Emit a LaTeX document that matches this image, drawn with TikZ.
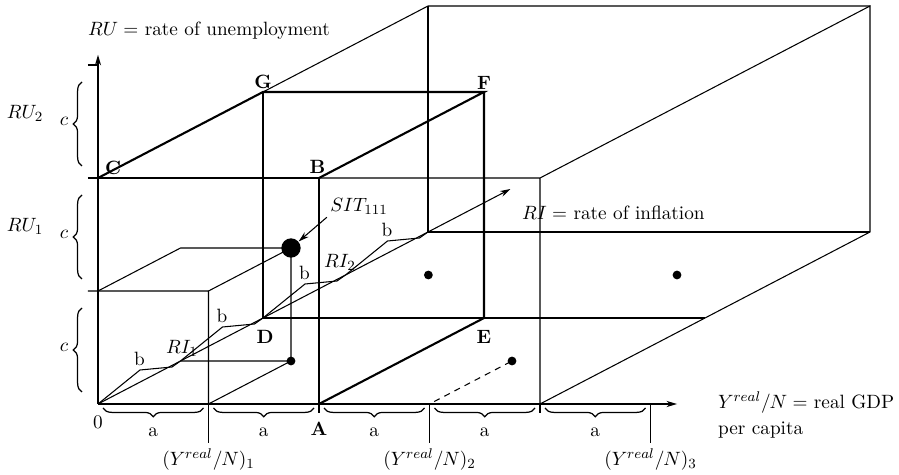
\documentclass[tikz,border=0pt,11pt]{standalone}
\usepackage{amsmath,amssymb}
\usepackage{tikz}
\usetikzlibrary{arrows.meta, positioning, calc, decorations.pathreplacing}

\begin{document}
\begin{tikzpicture}[>={Stealth[length=6pt,width=3.5pt]},
  x={(2.21cm,0cm)}, y={(0cm,2.26cm)}, z={(1.65cm,0.86cm)},
  box/.style={line width=0.6pt},
  cube/.style={line width=1.2pt},
  ax/.style={line width=0.7pt},
  bracedn/.style={decorate, decoration={brace, mirror, amplitude=5pt}, line width=0.7pt},
  braceup/.style={decorate, decoration={brace, amplitude=5pt}, line width=0.7pt},
  lbl/.style={inner sep=1pt},
  dot/.style={circle, fill, inner sep=0pt, minimum size=5pt},
  bigdot/.style={circle, fill, inner sep=0pt, minimum size=11pt}]
\useasboundingbox (-1.96cm,-1.42cm) rectangle (16.02cm,8.08cm);

% cube OABC-DEFG
\coordinate (O) at (0,0,0);
\coordinate (A) at (2,0,0);
\coordinate (B) at (2,2,0);
\coordinate (C) at (0,2,0);
\coordinate (D) at (0,0,2);
\coordinate (E) at (2,0,2);
\coordinate (F) at (2,2,2);
\coordinate (G) at (0,2,2);
% outer box
\coordinate (p1) at (4,0,0);
\coordinate (p2) at (4,2,0);
\coordinate (p3) at (4,2,4);
\coordinate (p4) at (4,0,4);
\coordinate (p5) at (0,0,4);
\coordinate (p6) at (0,2,4);
\coordinate (p7) at (4,0,2);
% axis ends
\coordinate (xend) at (5.24,0,0);
\coordinate (yend) at (0,3.09,0);
\coordinate (zend) at (0,0,5);

% outer box
\draw[box] (B) -- (p2) -- (p1) -- (p4) -- (p3) -- (p2);
\draw[box] (G) -- (p6) -- (p3);
\draw[box] (p6) -- (p5) -- (p4);
\draw[box] (G) -- (D) -- (p7);

% small box
\draw[box] ($(0,1,0)+(-0.2cm,0)$) -- (1,1,0) -- (1,0,0) -- (1,0,1);
\draw[box] (0,1,0) -- (0,1,1) -- (1,1,1) -- (1,0,1) -- (0,0,1);
\draw[box] (1,1,0) -- (1,1,1);
\draw[box] ($(0,2,0)+(-0.2cm,0)$) -- (C);
\draw[box] ($(0,3,0)+(-0.2cm,0)$) -- (0,3,0);
\draw[box, dash pattern=on 3.5pt off 3pt, dash phase=3.5pt] (3,0,0) -- (3,0,1);

% axes
\draw[ax, ->] (O) -- (xend);
\draw[ax, ->] (O) -- (yend);
\draw[box, ->] (O) -- (zend);

% steps along RI
\foreach \k in {0,...,3} {
  \draw[box] (0,0,\k) -- ++(0.84cm,0.68cm) -- ++(0.64cm,0.06cm) -- (0,0,\k+1);
  \node[lbl] (b\k) at ($(0,0,\k)+(0.83cm,0.9cm)$) {b};
}
\node[lbl] (ri1) at ($(0,0,1)+(0.03cm,0.26cm)$) {$RI_1$};
\node[lbl] (ri2) at ($(0,0,3)+(-0.11cm,0.26cm)$) {$RI_2$};

% cube edges
\draw[cube] (O) -- (C) -- (B) -- (A);
\draw[cube] (C) -- (G) -- (F) -- (B);
\draw[cube] (F) -- (E) -- (A);
\draw[ax] (O) -- (A);

% ticks and braces below
\foreach \k in {1,3,5}
  \draw[box] (\k,0,0) -- ++(0,-0.78cm);
\foreach \k in {2,4}
  \draw[box] (\k,0,0) -- ++(0,-0.18cm);
\foreach \k in {0,...,4} {
  \draw[bracedn] ($(\k,0,0)+(0.1cm,-0.08cm)$) -- ($(\k+1,0,0)+(-0.1cm,-0.08cm)$);
  \node[lbl] (a\k) at ($(\k+0.5,0,0)+(0,-0.56cm)$) {a};
}
\node[lbl] (y1) at ($(1,0,0)+(0,-1.12cm)$) {$(Y^{real}/N)_1$};
\node[lbl] (y2) at ($(3,0,0)+(0,-1.12cm)$) {$(Y^{real}/N)_2$};
\node[lbl] (y3) at ($(5,0,0)+(0,-1.12cm)$) {$(Y^{real}/N)_3$};

% braces left
\foreach \k in {0,1,2} {
  \draw[braceup] ($(0,\k,0)+(-0.32cm,0.24cm)$) -- ($(0,\k+1,0)+(-0.32cm,-0.34cm)$);
  \node[lbl] (c\k) at ($(0,\k+0.5,0)+(-0.68cm,0)$) {$c$};
}
\node[lbl] (ru1) at (-1.46cm,3.56cm) {$RU_1$};
\node[lbl] (ru2) at (-1.46cm,5.82cm) {$RU_2$};

% corner labels
\node[lbl] (lA) at ($(A)+(0,-0.5cm)$) {\textbf{A}};
\node[lbl] (lB) at ($(B)+(-0.03cm,0.22cm)$) {\textbf{B}};
\node[lbl] (lC) at ($(C)+(0.3cm,0.2cm)$) {\textbf{C}};
\node[lbl] (lD) at ($(D)+(0.04cm,-0.38cm)$) {\textbf{D}};
\node[lbl] (lE) at ($(E)+(0,-0.38cm)$) {\textbf{E}};
\node[lbl] (lF) at ($(F)+(0,0.19cm)$) {\textbf{F}};
\node[lbl] (lG) at ($(G)+(0,0.2cm)$) {\textbf{G}};
\node[lbl] (l0) at ($(O)+(0,-0.36cm)$) {0};

% situations
\node[bigdot] (s111) at (1,1,1) {};
\node[dot] (d1) at (1,0,1) {};
\node[dot] (d2) at (3,0,1) {};
\node[dot] (d3) at (0.75,0,3) {};
\node[dot] (d4) at (3,0,3) {};
\node[lbl] (sit) at ($(s111)+(1.36cm,0.84cm)$) {$SIT_{111}$};
\draw[box, ->, shorten <=1pt] (sit.south west) -- (s111);

% axis titles
\node[lbl, anchor=west] (ru) at (-0.24cm,7.46cm) {$RU =$ rate of unemployment};
\node[lbl, anchor=west] (ri) at (8.44cm,3.82cm) {$RI =$ rate of inflation};
\node[lbl, anchor=west] (gdp) at (12.36cm,0.02cm) {$Y^{real}/N =$ real GDP};
\node[lbl, anchor=west] (pc) at (12.36cm,-0.52cm) {per capita};
\end{tikzpicture}
\end{document}
